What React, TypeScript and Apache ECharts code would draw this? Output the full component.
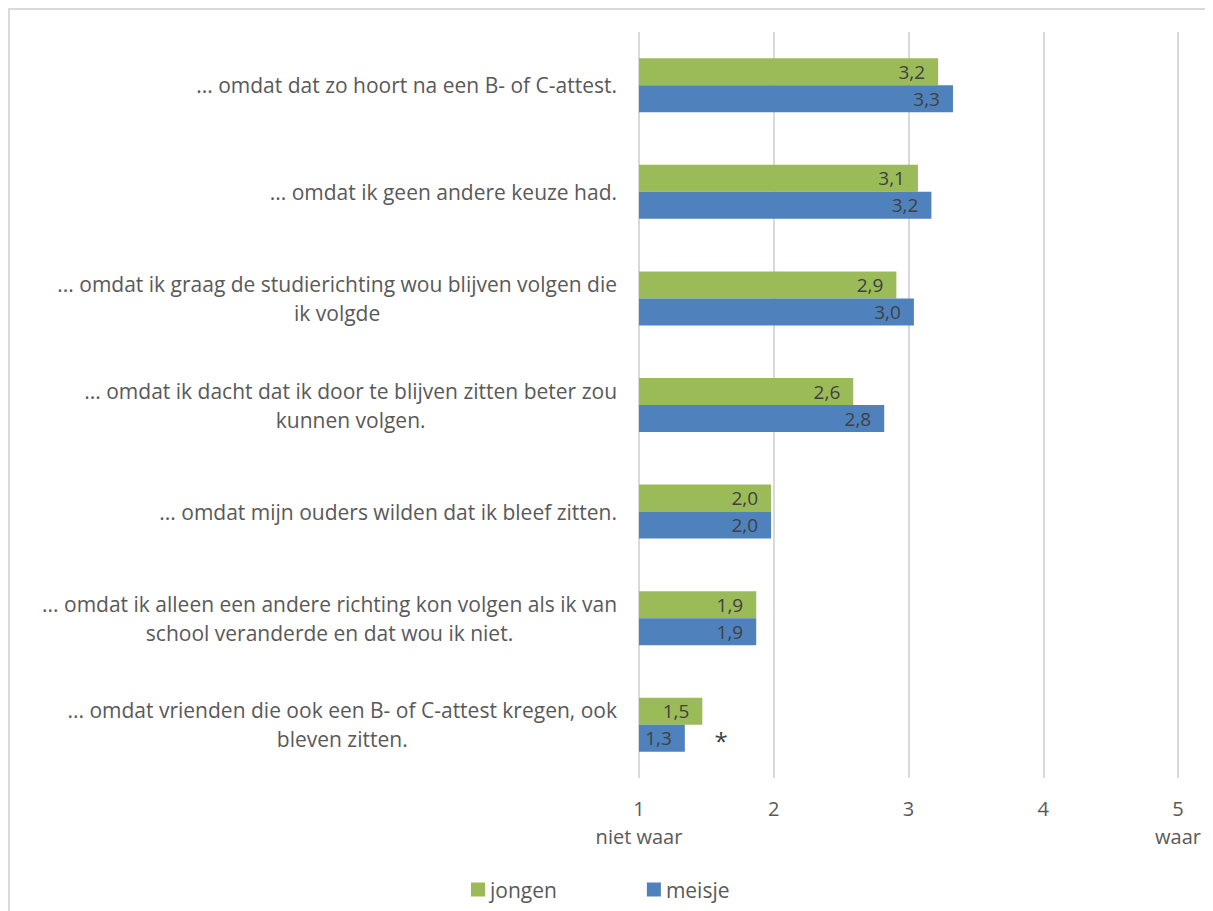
import React, { useEffect, useRef } from "react";
import * as echarts from "echarts";

const categories: string[] = [
  "... omdat dat zo hoort na een B- of C-attest.",
  "... omdat ik geen andere keuze had.",
  "... omdat ik graag de studierichting wou blijven volgen die\nik volgde",
  "... omdat ik dacht dat ik door te blijven zitten beter zou\nkunnen volgen.",
  "... omdat mijn ouders wilden dat ik bleef zitten.",
  "... omdat ik alleen een andere richting kon volgen als ik van\nschool veranderde en dat wou ik niet.",
  "... omdat vrienden die ook een B- of C-attest kregen, ook\nbleven zitten.",
];

const jongen: number[] = [3.22, 3.07, 2.91, 2.59, 1.98, 1.87, 1.47];
const meisje: number[] = [3.33, 3.17, 3.04, 2.82, 1.98, 1.87, 1.34];

const tickLabels: Record<number, string> = {
  1: "1\nniet waar",
  2: "2",
  3: "3",
  4: "4",
  5: "5\nwaar",
};

const significanceMark = "*";
const significanceValue = 1.61;
const significanceCategoryIndex = 6;

const FONT = "'Open Sans', sans-serif";

function fmt(v: number): string {
  return (Math.round(v * 10) / 10).toFixed(1).replace(".", ",");
}

export default function App() {
  const ref = useRef<HTMLDivElement>(null);

  useEffect(() => {
    if (!ref.current) return;
    const chart = echarts.init(ref.current, undefined, { renderer: "svg" });
    const dataLabel = {
      show: true,
      position: "insideRight",
      distance: 13,
      fontFamily: FONT,
      fontSize: 19,
      color: "#404040",
      formatter: (p: any) => fmt(p.value),
    };
    chart.setOption({
      animation: false,
      textStyle: { fontFamily: FONT },
      legend: {
        bottom: 6,
        left: 456,
        itemWidth: 14,
        itemHeight: 14,
        itemGap: 90,
        icon: "rect",
        textStyle: { fontFamily: FONT, fontSize: 21, color: "#595959" },
        data: ["jongen", "meisje"],
      },
      grid: { left: 629, right: 35, top: 22, bottom: 133 },
      xAxis: {
        type: "value",
        min: 1,
        max: 5,
        interval: 1,
        axisLine: { show: false },
        axisTick: { show: false },
        splitLine: { show: true, lineStyle: { color: "#d9d9d9", width: 2 } },
        axisLabel: {
          margin: 16,
          fontFamily: FONT,
          fontSize: 20,
          lineHeight: 28,
          color: "#595959",
          formatter: (v: number) => tickLabels[v] ?? String(v),
        },
      },
      yAxis: {
        type: "category",
        inverse: true,
        data: categories,
        axisLine: { show: false },
        axisTick: { show: false },
        axisLabel: {
          margin: 22,
          formatter: (v: string) => `{a|${v}}`,
          rich: {
            a: {
              fontFamily: FONT,
              fontSize: 21,
              lineHeight: 29,
              color: "#595959",
              align: "center",
            },
          },
        },
      },
      series: [
        {
          name: "jongen",
          type: "bar",
          data: jongen,
          barWidth: 27,
          barGap: "0%",
          itemStyle: { color: "#9BBB59" },
          label: dataLabel,
        },
        {
          name: "meisje",
          type: "bar",
          data: meisje,
          barWidth: 27,
          barGap: "0%",
          itemStyle: { color: "#4F81BD" },
          label: dataLabel,
          markPoint: {
            symbol: "circle",
            symbolSize: 1,
            itemStyle: { color: "transparent" },
            label: {
              show: true,
              position: "inside",
              offset: [0, 2],
              fontFamily: FONT,
              fontSize: 24,
              color: "#404040",
              formatter: () => significanceMark,
            },
            data: [
              {
                coord: [significanceValue, categories[significanceCategoryIndex]],
              },
            ],
          },
        },
      ],
    });
    return () => chart.dispose();
  }, []);

  return (
    <div
      ref={ref}
      style={{
        width: 1205,
        height: 903,
        boxSizing: "border-box",
        borderLeft: "2px solid #d9d9d9",
        borderTop: "2px solid #d9d9d9",
        background: "#fff",
      }}
    />
  );
}
